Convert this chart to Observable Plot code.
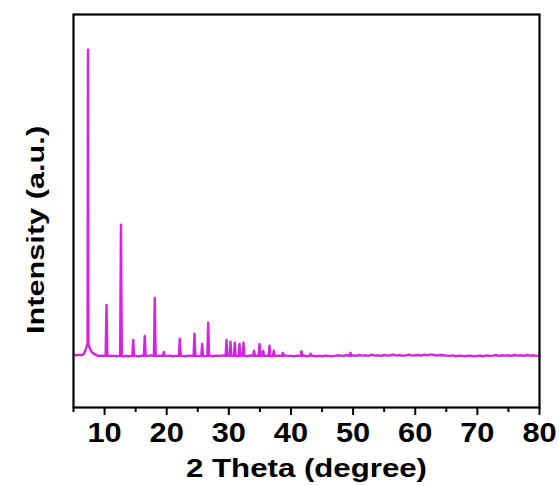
<!DOCTYPE html>
<html><head><meta charset="utf-8">
<script src="https://cdn.jsdelivr.net/npm/d3@7"></script>
<script src="https://cdn.jsdelivr.net/npm/@observablehq/plot@0.6"></script>
<style>body{margin:0;background:#fff;}</style>
</head><body><div id="chart"></div>
<script>
const xTitle = "2 Theta (degree)";
const yTitle = "Intensity (a.u.)";
const majorTicks = [10, 20, 30, 40, 50, 60, 70, 80];
const minorTicks = [5, 15, 25, 35, 45, 55, 65, 75];
const lineColor = "#d622e2";

// sharp reflections: 2θ position and height above baseline
const peakPos = [10.31, 12.64, 14.61, 16.47, 18.08, 19.53, 22.11, 24.47, 25.71, 26.68, 29.62, 30.27, 30.96, 31.72, 32.36, 34.05, 34.94, 35.53, 36.54, 37.24, 38.68, 41.69, 43.14, 49.58];
const peakHeight = [169, 430, 55, 68, 192, 16, 59, 75, 42, 111, 55, 49, 46, 42, 46, 20, 42, 20, 36, 20, 13, 18, 10, 13];

// main reflection with its broad foot
const humpX = [6.3, 6.7, 7.0, 7.2, 7.26, 7.33, 7.40, 7.48, 7.7, 8.0, 8.5, 9.0];
const humpY = [5, 10, 26, 40, 44, 1000, 42, 36, 24, 14, 7, 3];

// baseline read every 0.5° from 5° to 80°
const baseStart = 5, baseStep = 0.5;
const baseY = [
  6,5,7,5,8,6,5,4,3,4,
  3,2,4,3,2,3,1,3,2,4,
  3,2,4,2,3,5,2,3,4,2,
  3,4,2,3,5,3,2,4,3,2,
  3,4,2,5,3,2,4,3,5,2,
  4,3,5,2,4,3,2,5,3,4,
  2,4,3,5,2,3,4,2,5,3,
  3,2,4,3,5,2,3,4,2,3,
  2,4,3,2,3,5,4,3,6,4,
  5,3,6,4,5,3,7,4,5,3,
  6,4,5,7,4,6,3,5,7,4,
  5,6,4,7,5,8,6,4,6,5,
  4,3,5,2,4,3,2,4,3,2,
  3,4,2,5,3,4,6,3,5,4,
  5,3,6,4,5,3,6,4,5,3,
  4
];

const pts = [];
baseY.forEach((v, i) => {
  const x = baseStart + i * baseStep;
  if (x > humpX[0] - 0.1 && x < humpX[humpX.length - 1] + 0.1) return;
  if (peakPos.some(p => Math.abs(p - x) < 0.2)) return;
  pts.push({x, y: v});
});
humpX.forEach((x, i) => pts.push({x, y: humpY[i]}));
peakPos.forEach((p, i) => {
  pts.push({x: p - 0.14, y: 3});
  pts.push({x: p, y: peakHeight[i]});
  pts.push({x: p + 0.14, y: 3});
});
pts.sort((a, b) => a.x - b.x);

const plot = Plot.plot({
  width: 559, height: 486,
  marginLeft: 73, marginRight: 20, marginTop: 14, marginBottom: 79,
  style: {fontFamily: "Liberation Sans, Arial, sans-serif", background: "#fff", color: "#000"},
  x: {domain: [5, 80], axis: null, label: null},
  y: {domain: [-165, 1115], axis: null, label: null},
  marks: [
    Plot.line(pts, {x: "x", y: "y", stroke: lineColor, strokeWidth: 2.4}),
    Plot.frame({stroke: "#000", strokeWidth: 2.2}),
    Plot.axisX(minorTicks, {tickSize: 5, strokeWidth: 2, text: null, label: null}),
    Plot.axisX(majorTicks, {tickSize: 8, strokeWidth: 2, tickPadding: 7, fontSize: 28, fontWeight: "bold", label: null, tickFormat: d => String(d)}),
    Plot.text([xTitle], {frameAnchor: "bottom", dy: 61, lineAnchor: "middle", textAnchor: "middle", fontSize: 26, fontWeight: "bold", fill: "#000"}),
    Plot.text([yTitle], {frameAnchor: "left", dx: -37, dy: 19, rotate: -90, lineAnchor: "middle", textAnchor: "middle", fontSize: 24, fontWeight: "bold", fill: "#000"})
  ]
});
document.getElementById("chart").append(plot);

plot.querySelectorAll("text").forEach(t => {
  const s = t.textContent;
  const f = s === xTitle ? 1.2 : s === yTitle ? 1.28 : majorTicks.map(String).includes(s) ? 1.1 : 1.0;
  if (f !== 1) {
    const w = t.getComputedTextLength();
    t.setAttribute("textLength", w * f);
    t.setAttribute("lengthAdjust", "spacingAndGlyphs");
  }
});
</script>
</body></html>
